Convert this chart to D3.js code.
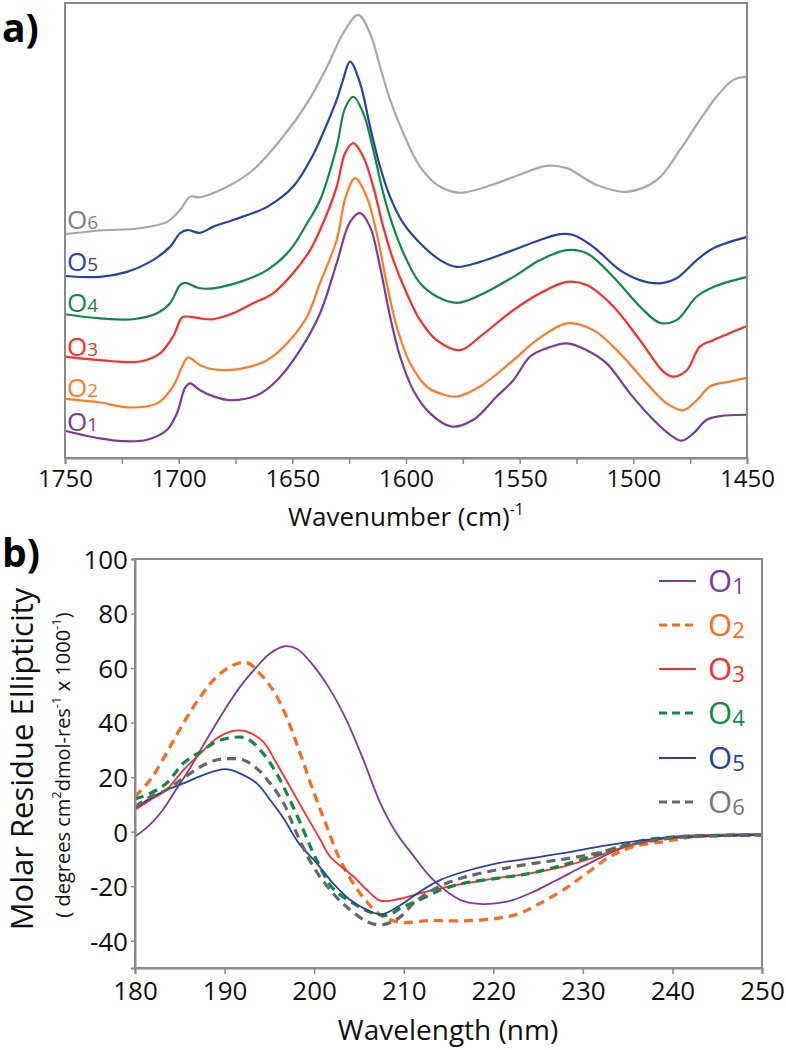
<!DOCTYPE html>
<html><head><meta charset="utf-8">
<script src="https://cdn.jsdelivr.net/npm/d3@7/dist/d3.min.js"></script>
<style>
body{margin:0;background:#fff}
svg{display:block}
text{font-family:"Open Sans","Noto Sans",sans-serif}
</style>
</head><body>
<svg id="chart" width="786" height="1050"></svg>
<script>
// ---------- Panel a: FTIR spectra (wavenumber, normalised offset absorbance) ----------
const seriesNames = ["O1","O2","O3","O4","O5","O6"];
const irTicks = [1750,1700,1650,1600,1550,1500,1450];

const irO1 = [[1750,0.060],[1734.6,0.043],[1724.5,0.037],[1713.9,0.040],[1705.1,0.062],[1700.7,0.099],[1697.2,0.154],[1695.0,0.164],[1690.6,0.149],[1684.9,0.136],[1677.4,0.127],[1665.5,0.138],[1656.7,0.171],[1646.6,0.237],[1637.8,0.318],[1630.5,0.428],[1624.6,0.519],[1620.2,0.538],[1615.8,0.508],[1611.4,0.420],[1607.0,0.311],[1602.6,0.223],[1596.8,0.149],[1589.4,0.098],[1579.9,0.069],[1570.4,0.084],[1560.1,0.135],[1552.8,0.171],[1545.4,0.223],[1538.1,0.241],[1529.3,0.252],[1520.5,0.237],[1511.7,0.208],[1501.5,0.142],[1491.2,0.084],[1483.8,0.051],[1478.7,0.038],[1473.6,0.054],[1467.7,0.084],[1461.9,0.092],[1450,0.095]];
const irO2 = [[1750,0.130],[1734.6,0.122],[1721.4,0.111],[1709.5,0.120],[1702.5,0.157],[1698.5,0.201],[1695.9,0.221],[1690.6,0.204],[1684.9,0.195],[1673.0,0.196],[1661.1,0.215],[1652.3,0.252],[1643.5,0.311],[1637.8,0.385],[1630.5,0.479],[1626.4,0.576],[1622.4,0.615],[1617.3,0.574],[1612.9,0.494],[1608.5,0.384],[1604.1,0.289],[1598.2,0.208],[1590.9,0.157],[1585.0,0.142],[1577.7,0.135],[1567.5,0.157],[1552.8,0.215],[1542.5,0.259],[1529.3,0.296],[1517.6,0.281],[1505.9,0.230],[1494.1,0.164],[1485.3,0.120],[1478.0,0.105],[1472.1,0.127],[1466.3,0.157],[1457.5,0.168],[1450,0.176]];
const irO3 = [[1750,0.223],[1734.6,0.215],[1717.0,0.212],[1708.2,0.230],[1702.5,0.267],[1698.5,0.309],[1696.3,0.311],[1690.6,0.307],[1684.9,0.305],[1676.1,0.318],[1667.3,0.340],[1658.5,0.362],[1649.7,0.406],[1642.2,0.457],[1637.8,0.501],[1630.5,0.596],[1626.8,0.670],[1623.2,0.692],[1618.8,0.662],[1614.4,0.596],[1610.0,0.508],[1605.6,0.435],[1599.7,0.362],[1593.8,0.303],[1586.5,0.259],[1576.2,0.237],[1567.4,0.267],[1552.8,0.325],[1541.0,0.362],[1529.3,0.387],[1520.5,0.380],[1508.8,0.333],[1497.1,0.259],[1486.8,0.190],[1482.4,0.179],[1476.5,0.193],[1470.7,0.245],[1464.8,0.259],[1450,0.290]];
const irO4 = [[1750,0.316],[1734.6,0.307],[1720.1,0.305],[1709.5,0.318],[1703.8,0.340],[1699.4,0.380],[1697.2,0.385],[1690.6,0.373],[1684.9,0.373],[1673.0,0.387],[1661.1,0.413],[1651.0,0.457],[1643.5,0.516],[1637.8,0.567],[1630.5,0.684],[1626.8,0.769],[1623.2,0.794],[1618.8,0.758],[1614.4,0.677],[1610.0,0.582],[1605.6,0.508],[1599.7,0.435],[1593.8,0.384],[1586.5,0.355],[1577.7,0.341],[1567.4,0.358],[1552.8,0.398],[1541.0,0.435],[1529.3,0.457],[1520.5,0.450],[1508.8,0.398],[1497.1,0.333],[1488.3,0.297],[1481.0,0.303],[1472.1,0.355],[1464.8,0.376],[1450,0.398]];
const irO5 = [[1750,0.400],[1734.6,0.398],[1722.7,0.409],[1712.6,0.431],[1703.8,0.464],[1699.4,0.494],[1696.3,0.501],[1690.6,0.495],[1684.9,0.508],[1676.1,0.523],[1661.1,0.552],[1649.7,0.596],[1640.9,0.666],[1637.8,0.699],[1630.5,0.787],[1627.7,0.831],[1624.6,0.871],[1620.2,0.824],[1615.8,0.728],[1611.4,0.640],[1607.0,0.574],[1601.2,0.516],[1593.8,0.472],[1585.0,0.435],[1577.7,0.420],[1567.4,0.431],[1552.8,0.457],[1541.0,0.479],[1532.2,0.492],[1526.4,0.490],[1517.6,0.464],[1505.9,0.413],[1497.1,0.391],[1488.3,0.384],[1481.0,0.395],[1472.1,0.435],[1464.8,0.461],[1450,0.486]];
const irO6 = [[1750,0.492],[1734.6,0.500],[1717.0,0.505],[1705.1,0.519],[1699.4,0.545],[1695.0,0.574],[1690.6,0.573],[1678.7,0.596],[1667.3,0.633],[1654.1,0.706],[1643.5,0.780],[1634.7,0.860],[1627.7,0.933],[1621.0,0.974],[1615.8,0.933],[1611.4,0.860],[1607.0,0.787],[1601.2,0.714],[1593.8,0.640],[1585.0,0.596],[1576.2,0.583],[1560.1,0.604],[1548.4,0.626],[1538.1,0.642],[1529.3,0.637],[1516.1,0.600],[1503.1,0.585],[1489.7,0.611],[1479.5,0.677],[1470.7,0.743],[1463.4,0.794],[1456.0,0.831],[1450,0.838]];

// ---------- Panel b: CD spectra (nm, molar residue ellipticity) ----------
const cdXTicks = [180,190,200,210,220,230,240,250];
const cdYTicks = [100,80,60,40,20,0,-20,-40];

const cdO1 = [[180,-1.8],[181.5,2.0],[183,7.5],[184.5,15.0],[186,22.5],[187.5,31.0],[189.5,42.0],[191.7,53.0],[193.6,60.5],[195.1,65.4],[196.7,68.0],[198.1,67.0],[199.9,61.0],[201.8,52.0],[203.6,41.0],[205.5,26.3],[207.4,10.4],[209.2,-0.6],[211,-8.5],[213.3,-17.7],[216.3,-25.0],[218.5,-26.5],[221.5,-25.7],[224.1,-22.6],[227.1,-17.7],[230.0,-12.8],[233.4,-7.3],[236.4,-3.7],[240.1,-1.8],[244.6,-1.2],[250,-0.8]];
const cdO2 = [[180,12.8],[181.7,19.0],[183.5,28.7],[185.4,39.8],[187.3,49.5],[189.1,56.8],[191.0,61.1],[192.5,62.0],[193.9,58.1],[195.4,52.0],[196.9,42.2],[198.4,29.0],[199.9,15.0],[201.4,2.0],[202.9,-10.4],[205.1,-22.5],[207.4,-30.5],[209.6,-33.2],[212.9,-32.6],[216.7,-32.7],[220.4,-31.8],[223.0,-29.9],[225.2,-26.3],[227.8,-21.4],[230.4,-15.3],[233.0,-9.2],[235.6,-5.5],[239.0,-3.7],[242.7,-1.8],[250,-1.2]];
const cdO3 = [[180,8.0],[181.7,11.6],[183.5,15.3],[185.4,22.6],[187.3,28.7],[189.1,34.2],[191.0,37.0],[192.5,36.7],[194.3,33.0],[195.8,25.1],[197.3,16.5],[199.2,5.5],[200.7,-3.0],[201.8,-9.2],[204.4,-16.5],[205.9,-21.4],[207.4,-25.3],[209.6,-24.6],[211.8,-22.6],[214.1,-20.8],[217.0,-18.9],[220.4,-17.1],[224.1,-15.3],[227.8,-12.8],[231.5,-9.2],[234.1,-6.1],[237.1,-3.7],[240.8,-1.8],[250,-1.2]];
const cdO4 = [[180,11.9],[181.7,14.1],[183.5,17.7],[185.4,25.1],[187.3,29.3],[189.1,33.0],[191.0,34.6],[192.5,34.2],[194.3,28.7],[195.8,21.4],[197.3,11.6],[198.8,0.6],[200.1,-9.2],[202.1,-20.8],[204.4,-26.3],[206.6,-29.9],[208.3,-30.6],[209.6,-28.1],[211.8,-25.0],[214.1,-21.4],[216.7,-18.9],[220.4,-17.1],[224.1,-15.3],[227.8,-12.2],[231.5,-8.5],[234.1,-5.5],[237.1,-3.0],[240.8,-1.8],[250,-1.2]];
const cdO5 = [[180,8.6],[181.7,12.2],[183.5,15.3],[185.4,17.7],[187.3,20.4],[189.1,22.4],[190.2,22.9],[191.7,21.4],[193.6,17.7],[195.1,11.6],[196.6,4.8],[198.3,-4.3],[200.3,-11.6],[202.1,-18.9],[204.0,-25.0],[205.9,-28.7],[207.5,-30.3],[209.6,-27.0],[211.8,-22.0],[214.1,-17.7],[216.7,-14.7],[220.4,-11.6],[224.1,-9.8],[227.8,-7.9],[231.5,-5.7],[234.1,-4.3],[237.1,-3.0],[240.8,-2.1],[250,-1.2]];
const cdO6 = [[180,9.2],[181.7,12.8],[183.5,15.3],[185.4,19.6],[187.3,23.8],[189.1,26.3],[190.6,26.8],[192.1,26.3],[193.6,23.2],[195.1,17.7],[196.6,10.4],[197.9,0.5],[199.9,-12.8],[202.1,-22.6],[203.6,-27.5],[205.9,-33.0],[207.5,-34.2],[209.4,-31.8],[211.1,-26.3],[212.9,-22.0],[214.8,-18.9],[217.0,-16.5],[220.4,-14.0],[224.1,-11.8],[227.8,-10.1],[231.5,-7.9],[234.1,-5.7],[237.1,-3.7],[240.8,-2.1],[250,-1.2]];

// ---------- styles ----------
const colorsA = ["#7d3a96","#ff7a21","#ff2a2a","#0c8a45","#2443a3","#a8a8a8"];
const labelColorsA = ["#7d3a96","#ff7a21","#ff2a2a","#0c8a45","#2443a3","#7f7f7f"];
const colorsB = ["#7d3a96","#ff6a1a","#ff2a2a","#0c8a45","#2443a3","#666666"];
const legendColorsB = ["#7d3a96","#ff6a1a","#ff2a2a","#0c8a45","#2443a3","#777777"];
const dashedB = [false,true,false,true,false,true];
const axisGray = "#8a8a8a";

const svg = d3.select("#chart");

// ================= Panel a =================
const ax = d3.scaleLinear().domain([1750,1450]).range([65,747]);
const ay = d3.scaleLinear().domain([0,1]).range([458,3]);
const irData = [irO1,irO2,irO3,irO4,irO5,irO6];

svg.append("text").attr("x",2).attr("y",42).attr("font-size",39).attr("font-weight","bold").text("a)");

const gA = svg.append("g");
const lineA = d3.line().x(d=>ax(d[0])).y(d=>ay(d[1])).curve(d3.curveCatmullRom.alpha(0.5));
irData.forEach((s,i)=>{
  gA.append("path").datum(s).attr("d",lineA).attr("fill","none")
    .attr("stroke",colorsA[i]).attr("stroke-width",2.2).attr("stroke-linejoin","round");
});

gA.append("rect").attr("x",65).attr("y",3).attr("width",682).attr("height",455)
  .attr("fill","none").attr("stroke",axisGray).attr("stroke-width",2);

const axA = d3.axisBottom(ax).tickValues(d3.range(1750,1449,-25))
  .tickFormat(d=> irTicks.includes(d) ? String(d) : "").tickSize(6).tickPadding(6);
const gAx = svg.append("g").attr("transform","translate(0,458)").call(axA);
gAx.select(".domain").attr("stroke",axisGray).attr("stroke-width",2);
gAx.selectAll(".tick line").attr("stroke",axisGray).attr("stroke-width",1.5);
gAx.selectAll(".tick text").attr("font-size",24).attr("fill","#111").attr("font-family","Open Sans");

const tA = svg.append("text").attr("x",406).attr("y",526).attr("text-anchor","middle")
  .attr("font-size",26).attr("fill","#111");
tA.append("tspan").text("Wavenumber (cm)");
tA.append("tspan").attr("dy",-11).attr("font-size",16).text("-1");

const labelYA = [422,388,347,303,262,220];
seriesNames.forEach((n,i)=>{
  const t = svg.append("text").attr("x",67).attr("y",labelYA[i]+9)
    .attr("font-size",26).attr("fill",labelColorsA[i]);
  t.append("tspan").text("O");
  t.append("tspan").attr("font-size",19).text(n.slice(1));
});

// ================= Panel b =================
const bx = d3.scaleLinear().domain([180,250]).range([135,762]);
const by = d3.scaleLinear().domain([-50,100]).range([968,559]);
const cdData = [cdO1,cdO2,cdO3,cdO4,cdO5,cdO6];

svg.append("text").attr("x",2).attr("y",567).attr("font-size",39).attr("font-weight","bold").text("b)");

const gB = svg.append("g");
const lineB = d3.line().x(d=>bx(d[0])).y(d=>by(d[1])).curve(d3.curveCatmullRom.alpha(0.5));
cdData.forEach((s,i)=>{
  gB.append("path").datum(s).attr("d",lineB).attr("fill","none")
    .attr("stroke",colorsB[i]).attr("stroke-width",dashedB[i]?3.2:1.8)
    .attr("stroke-dasharray",dashedB[i]?"9,6":null);
});

gB.append("rect").attr("x",135).attr("y",559).attr("width",627).attr("height",409)
  .attr("fill","none").attr("stroke",axisGray).attr("stroke-width",2);

const bxAxis = d3.axisBottom(bx).tickValues(cdXTicks).tickSize(6).tickPadding(8);
const gBx = svg.append("g").attr("transform","translate(0,968)").call(bxAxis);
const byAxis = d3.axisLeft(by).tickValues(cdYTicks).tickFormat(d=>String(d)).tickSize(4).tickPadding(3);
const gBy = svg.append("g").attr("transform","translate(135,0)").call(byAxis);
[gBx,gBy].forEach(g=>{
  g.select(".domain").attr("stroke",axisGray).attr("stroke-width",2);
  g.selectAll(".tick line").attr("stroke",axisGray).attr("stroke-width",1.5);
  g.selectAll(".tick text").attr("font-size",26).attr("fill","#111").attr("font-family","Open Sans");
});
gBy.selectAll(".tick text").attr("dy","0.36em");

svg.append("text").attr("x",448).attr("y",1040).attr("text-anchor","middle")
  .attr("font-size",28).attr("fill","#111").text("Wavelength (nm)");

svg.append("text").attr("transform","translate(33,759) rotate(-90)").attr("text-anchor","middle")
  .attr("font-size",31).attr("fill","#111").text("Molar Residue Ellipticity");

const sub = svg.append("text").attr("transform","translate(70,765) rotate(-90)").attr("text-anchor","middle")
  .attr("font-size",20).attr("fill","#111");
sub.append("tspan").text("( degrees cm");
sub.append("tspan").attr("dy",-9).attr("font-size",13).text("2");
sub.append("tspan").attr("dy",9).text("dmol-res");
sub.append("tspan").attr("dy",-9).attr("font-size",13).text("-1");
sub.append("tspan").attr("dy",9).text(" x 1000");
sub.append("tspan").attr("dy",-9).attr("font-size",13).text("-1");
sub.append("tspan").attr("dy",9).text(")");

// legend
const legendY = [581,625,669,713,758,802];
seriesNames.forEach((n,i)=>{
  svg.append("line").attr("x1",659).attr("x2",696).attr("y1",legendY[i]).attr("y2",legendY[i])
    .attr("stroke",colorsB[i]).attr("stroke-width",dashedB[i]?3.2:1.8)
    .attr("stroke-dasharray",dashedB[i]?"8,5":null);
  const t = svg.append("text").attr("x",708).attr("y",legendY[i]+11)
    .attr("font-size",31).attr("fill",legendColorsB[i]);
  t.append("tspan").text("O");
  t.append("tspan").attr("font-size",22).attr("dy",2).text(n.slice(1));
});
</script>
</body></html>
